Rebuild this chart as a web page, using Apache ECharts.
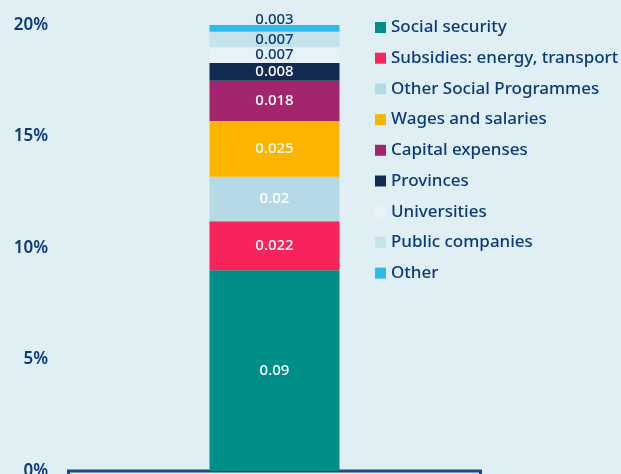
<!DOCTYPE html>
<html>
<head>
<meta charset="utf-8">
<script src="https://cdn.jsdelivr.net/npm/echarts@6/dist/echarts.min.js"></script>
<style>
html,body{margin:0;padding:0;background:#dfeff4;}
#chart{width:621px;height:474px;}
</style>
</head>
<body>
<div id="chart"></div>
<script>
const categories = [''];
const seriesNames = ['Social security','Subsidies: energy, transport','Other Social Programmes','Wages and salaries','Capital expenses','Provinces','Universities','Public companies','Other'];
const seriesValues = [0.09, 0.022, 0.02, 0.025, 0.018, 0.008, 0.007, 0.007, 0.003];
const seriesColors = ['#008f88','#f6245a','#b5dae5','#fbb500','#a4256e','#132a52','#e6f2f7','#c6e2eb','#2fbbea'];
const labelColors = ['#ffffff','#ffffff','#ffffff','#ffffff','#ffffff','#ffffff','#0b3a7a','#0b3a7a','#0b3a7a'];
const yTicks = [0, 0.05, 0.10, 0.15, 0.20];

const FONT = 'Noto Sans';
const chart = echarts.init(document.getElementById('chart'));
const series = seriesNames.map((name, i) => ({
  name: name,
  type: 'bar',
  stack: 'total',
  barWidth: 130,
  data: [seriesValues[i]],
  itemStyle: { color: seriesColors[i] },
  label: {
    show: true,
    position: i === seriesNames.length - 1 ? 'top' : 'inside',
    distance: -2,
    color: labelColors[i],
    fontFamily: FONT,
    fontSize: 15,
    fontWeight: 500,
    formatter: p => String(p.value)
  }
}));

chart.setOption({
  backgroundColor: '#dfeff4',
  animation: false,
  grid: { left: 68, right: 140, top: 25, bottom: 3, containLabel: false, outerBoundsMode: 'none' },
  legend: {
    orient: 'vertical',
    left: 375,
    top: 19,
    padding: 0,
    itemWidth: 11,
    itemHeight: 11,
    itemGap: 13.7,
    icon: 'rect',
    data: seriesNames,
    textStyle: { color: '#0b3a7a', fontFamily: FONT, fontSize: 17, lineHeight: 16, fontWeight: 500 }
  },
  xAxis: {
    type: 'category',
    data: categories,
    axisLine: { show: true, lineStyle: { color: '#1a4a8a', width: 1.5 } },
    axisTick: { show: false },
    axisLabel: {
      show: true,
      margin: 0,
      formatter: () => '{b| }',
      rich: { b: { width: 412, height: 30, borderColor: '#1a4a8a', borderWidth: 1.5, backgroundColor: 'transparent' } }
    }
  },
  yAxis: {
    type: 'value',
    min: 0,
    max: 0.2,
    interval: 0.05,
    splitLine: { show: false },
    axisLine: { show: false },
    axisTick: { show: false },
    axisLabel: {
      margin: 20,
      color: '#0b3a7a',
      fontFamily: FONT,
      fontSize: 17,
      fontWeight: 600,
      formatter: v => {
        const idx = yTicks.findIndex(t => Math.abs(t - v) < 1e-9);
        return Math.round(yTicks[idx >= 0 ? idx : 0] * 100) + '%';
      }
    }
  },
  series: series
});
</script>
</body>
</html>
